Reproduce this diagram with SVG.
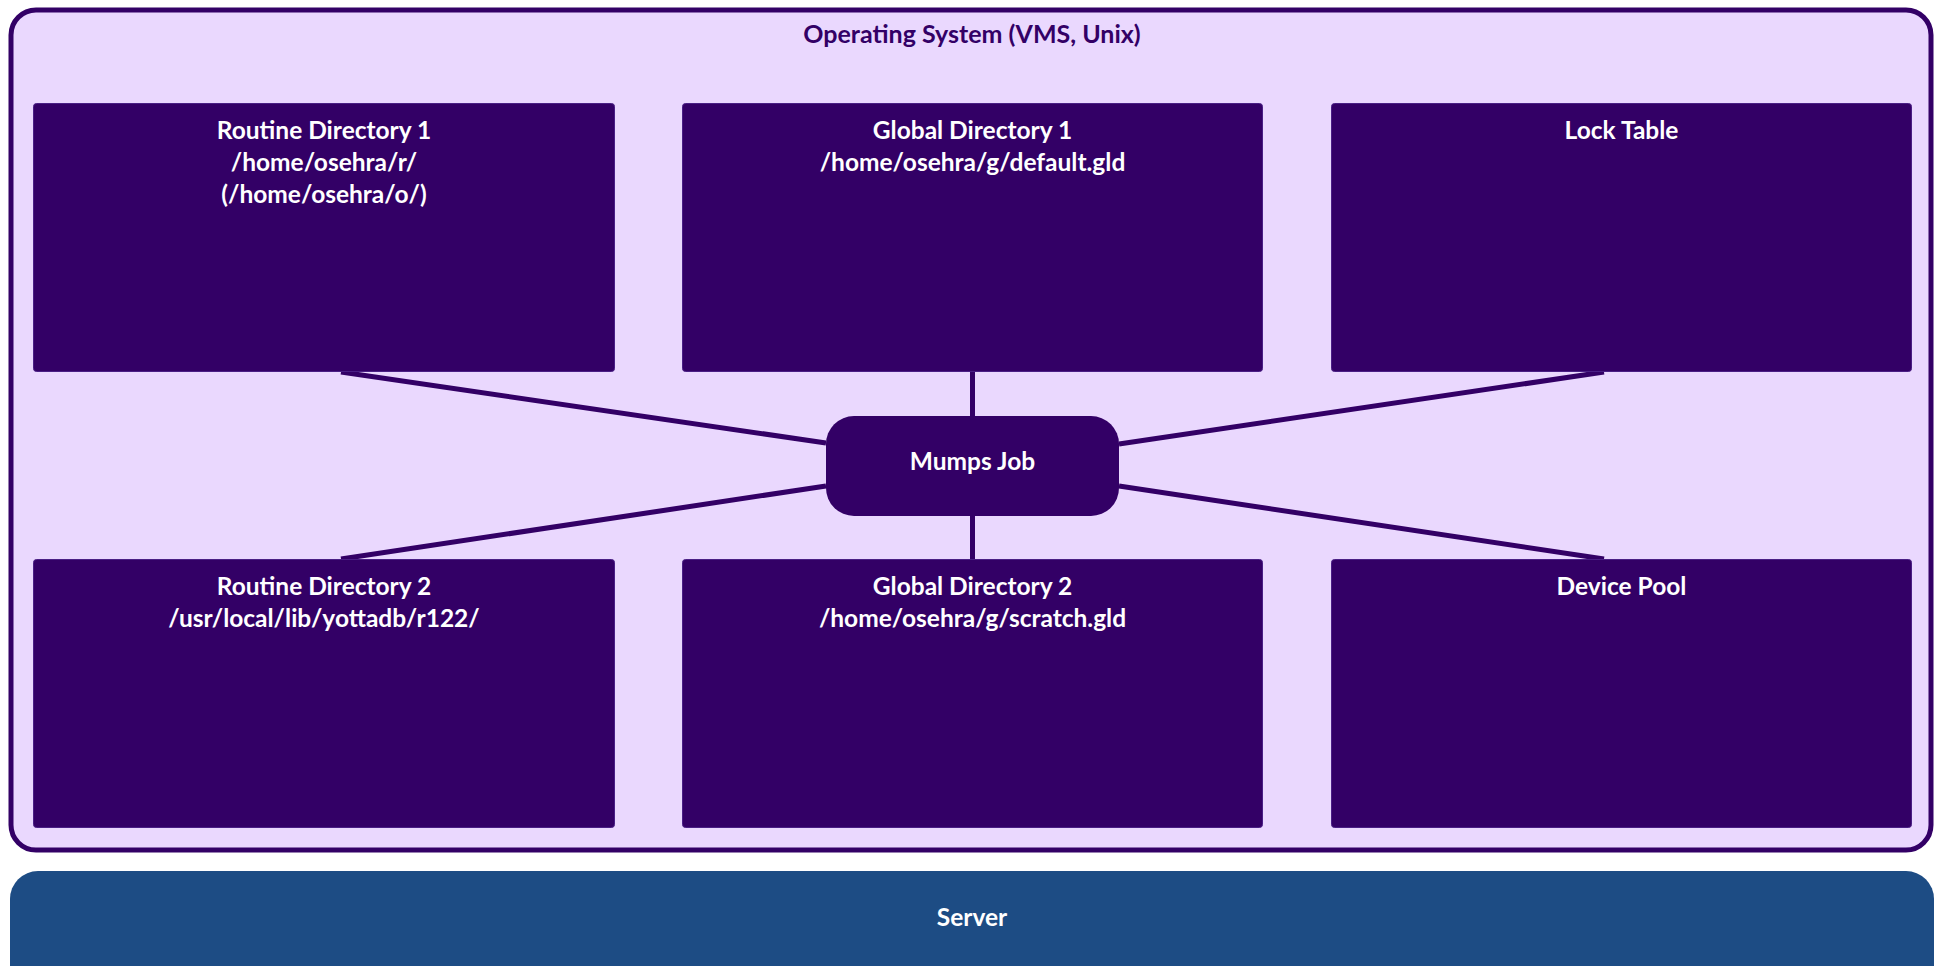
<svg xmlns="http://www.w3.org/2000/svg" width="1941" height="966" viewBox="0 0 1941 966">
<style>
.os{fill:#EAD8FE;stroke:#330066;stroke-width:5}
.box{fill:#330066;stroke:#4A1F85;stroke-width:1}
.job{fill:#330066}
.srv{fill:#1D4C84}
.lbl{font-family:Lato,"Open Sans",sans-serif;font-weight:700;font-size:24.5px;fill:#FFFFFF;text-anchor:middle}
.oslbl{font-family:Lato,"Open Sans",sans-serif;font-weight:700;font-size:25px;fill:#330066;text-anchor:middle}
.conn{stroke:#330066;stroke-width:5;fill:none}
</style>
<rect width="1941" height="966" fill="#FFFFFF"/>
<g id="os">
<rect class="os" x="11" y="10" width="1920" height="840" rx="25"/>
<text class="oslbl" x="972" y="43">Operating System (VMS, Unix)</text>
</g>
<g id="server">
<rect class="srv" x="10" y="871" width="1924" height="130" rx="28"/>
<text class="lbl" x="972" y="926">Server</text>
</g>
<g id="connectors">
<line class="conn" x1="341" y1="372" x2="826" y2="443"/>
<line class="conn" x1="341" y1="559" x2="826" y2="486"/>
<line class="conn" x1="972.5" y1="371" x2="972.5" y2="416"/>
<line class="conn" x1="972.5" y1="516" x2="972.5" y2="559"/>
<line class="conn" x1="1604" y1="372" x2="1119" y2="444"/>
<line class="conn" x1="1604" y1="559" x2="1119" y2="486"/>
</g>
<g id="routine1">
<rect class="box" x="33.5" y="103.5" width="581" height="268" rx="3"/>
<text class="lbl" x="324" y="139">Routine Directory 1</text>
<text class="lbl" x="324" y="171">/home/osehra/r/</text>
<text class="lbl" x="324" y="203">(/home/osehra/o/)</text>
</g>
<g id="global1">
<rect class="box" x="682.5" y="103.5" width="580" height="268" rx="3"/>
<text class="lbl" x="972.5" y="139">Global Directory 1</text>
<text class="lbl" x="972.5" y="171">/home/osehra/g/default.gld</text>
</g>
<g id="locktable">
<rect class="box" x="1331.5" y="103.5" width="580" height="268" rx="3"/>
<text class="lbl" x="1621.5" y="139">Lock Table</text>
</g>
<g id="routine2">
<rect class="box" x="33.5" y="559.5" width="581" height="268" rx="3"/>
<text class="lbl" x="324" y="595">Routine Directory 2</text>
<text class="lbl" x="324" y="627">/usr/local/lib/yottadb/r122/</text>
</g>
<g id="global2">
<rect class="box" x="682.5" y="559.5" width="580" height="268" rx="3"/>
<text class="lbl" x="972.5" y="595">Global Directory 2</text>
<text class="lbl" x="972.5" y="627">/home/osehra/g/scratch.gld</text>
</g>
<g id="devicepool">
<rect class="box" x="1331.5" y="559.5" width="580" height="268" rx="3"/>
<text class="lbl" x="1621.5" y="595">Device Pool</text>
</g>
<g id="mumpsjob">
<rect class="job" x="826" y="416" width="293" height="100" rx="28"/>
<text class="lbl" x="972.5" y="470">Mumps Job</text>
</g>
</svg>
